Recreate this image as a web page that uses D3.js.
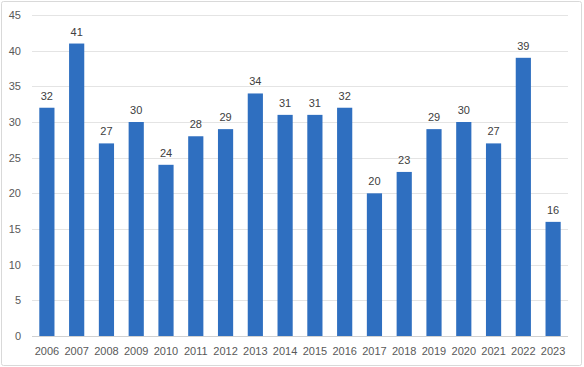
<!DOCTYPE html>
<html><head><meta charset="utf-8">
<script src="https://cdn.jsdelivr.net/npm/d3@7"></script>
<style>body{margin:0;background:#fff}svg{display:block}</style>
</head><body>
<script>
const categories = ["2006","2007","2008","2009","2010","2011","2012","2013","2014","2015","2016","2017","2018","2019","2020","2021","2022","2023"];
const values = [32,41,27,30,24,28,29,34,31,31,32,20,23,29,30,27,39,16];
const yTicks = [0,5,10,15,20,25,30,35,40,45];

(function(){
const W = 584, H = 367;
const svg = d3.select("body").append("svg").attr("width", W).attr("height", H);
svg.append("rect").attr("x",1.5).attr("y",1.5).attr("width",580).attr("height",364)
  .attr("fill","#fff").attr("stroke","#d9d9d9").attr("rx",2);

const pl = 32, pr = 568, pt = 15, pb = 336;
const x = d3.scaleBand().domain(categories).range([pl, pr]).paddingInner(0.49).paddingOuter(0.245);
const y = d3.scaleLinear().domain([0,45]).range([pb, pt]);
const font = "'Liberation Sans', Arial, sans-serif";

svg.append("g").selectAll("line").data(yTicks).join("line")
  .attr("x1", pl).attr("x2", pr)
  .attr("y1", d => Math.round(y(d)) + 0.5).attr("y2", d => Math.round(y(d)) + 0.5)
  .attr("stroke", d => d === 0 ? "#d0d0d0" : "#e4e4e4").attr("stroke-width", 1);

svg.append("g").selectAll("text").data(yTicks).join("text")
  .attr("x", 21).attr("y", d => y(d)).attr("dy","0.35em")
  .attr("text-anchor","end").attr("font-family", font).attr("font-size", 11)
  .attr("fill","#595959").text(d => d);

svg.append("g").selectAll("rect").data(values).join("rect")
  .attr("x", (d,i) => x(categories[i])).attr("width", x.bandwidth())
  .attr("y", d => y(d)).attr("height", d => y(0) - y(d))
  .attr("fill", "#2F6FC0");

svg.append("g").selectAll("text").data(values).join("text")
  .attr("x", (d,i) => x(categories[i]) + x.bandwidth()/2)
  .attr("y", d => y(d) - 8)
  .attr("text-anchor","middle").attr("font-family", font).attr("font-size", 11)
  .attr("fill","#404040").text(d => d);

svg.append("g").selectAll("text").data(categories).join("text")
  .attr("x", d => x(d) + x.bandwidth()/2).attr("y", 355)
  .attr("text-anchor","middle").attr("font-family", font).attr("font-size", 11)
  .attr("fill","#595959").text(d => d);
})();
</script>
</body></html>
